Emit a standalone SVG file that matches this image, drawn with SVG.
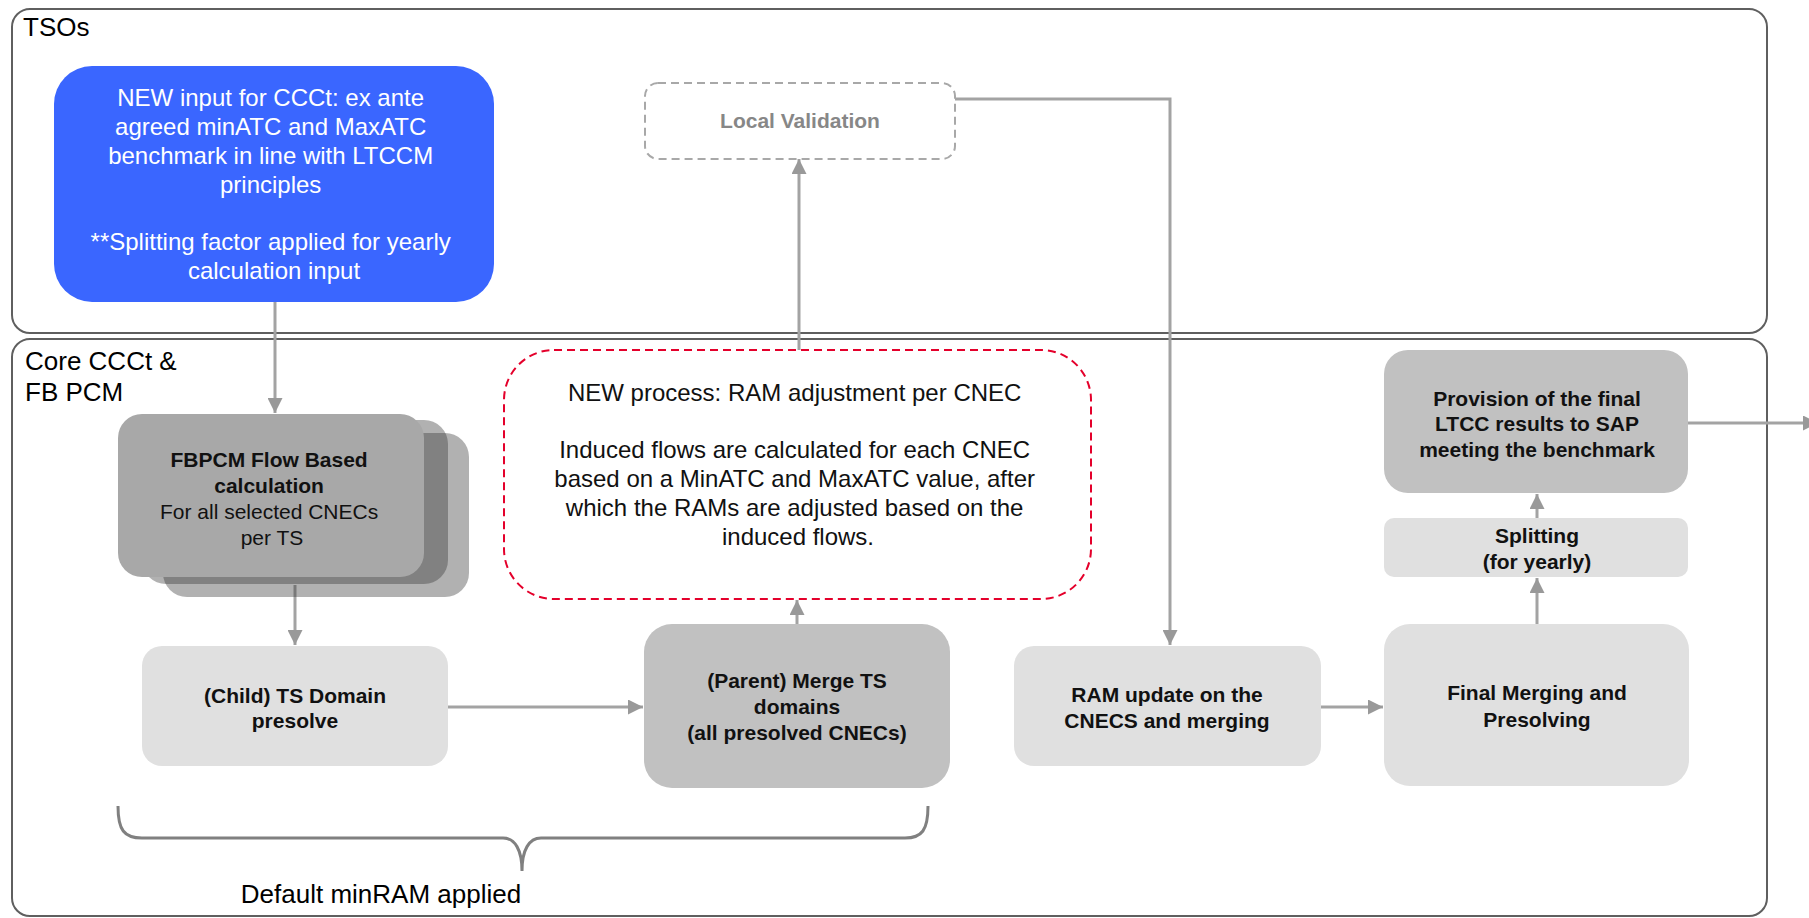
<svg xmlns="http://www.w3.org/2000/svg" width="1809" height="918" viewBox="0 0 1809 918">
<defs>
<style>
.lane{fill:none;stroke:#5f5f5f;stroke-width:2}
.lbl{font-family:"Liberation Sans",Arial,sans-serif;font-size:26px;fill:#000}
.t{font-family:"Liberation Sans",Arial,sans-serif;font-size:21px;fill:#111;text-anchor:middle}
.b{font-weight:bold}
.big{font-size:24px}
.light{fill:#e0e0e0}
.mid{fill:#c1c1c1}
.conn{fill:none;stroke:#a3a3a3;stroke-width:3}
</style>
<marker id="ah" viewBox="0 0 10 10" refX="10" refY="5" markerWidth="15" markerHeight="15" markerUnits="userSpaceOnUse" orient="auto">
<path d="M0,0 L10,5 L0,10 z" fill="#999999"/>
</marker>
</defs>
<rect width="1809" height="918" fill="#ffffff"/>

<g id="lane-tsos">
<rect class="lane" x="12" y="9" width="1755" height="324" rx="18"/>
<text class="lbl" x="23" y="36">TSOs</text>
</g>
<g id="lane-core">
<rect class="lane" x="12" y="339" width="1755" height="577" rx="18"/>
<text class="lbl" x="25" y="370">Core CCCt &amp;</text>
<text class="lbl" x="25" y="401">FB PCM</text>
</g>

<g id="connectors">
<path class="conn" d="M275,302 V413" marker-end="url(#ah)"/>
<path class="conn" d="M295,585 V645" marker-end="url(#ah)"/>
<path class="conn" d="M448,707 H643" marker-end="url(#ah)"/>
<path class="conn" d="M797,624 V600" marker-end="url(#ah)"/>
<path class="conn" d="M799,350 V159" marker-end="url(#ah)"/>
<path class="conn" d="M955,99 H1170 V645" marker-end="url(#ah)"/>
<path class="conn" d="M1321,707 H1383" marker-end="url(#ah)"/>
<path class="conn" d="M1537,624 V578" marker-end="url(#ah)"/>
<path class="conn" d="M1537,518 V494" marker-end="url(#ah)"/>
<path class="conn" d="M1688,423 H1818" marker-end="url(#ah)"/>
</g>

<g id="new-input">
<rect x="54" y="66" width="440" height="236" rx="38" fill="#3a66ff"/>
<text class="t big" x="274" fill="#ffffff" style="fill:#ffffff">
<tspan x="274" y="106">NEW input for CCCt: ex ante</tspan>
<tspan x="274" y="135">agreed minATC and MaxATC</tspan>
<tspan x="274" y="164">benchmark in line with LTCCM</tspan>
<tspan x="274" y="193">principles</tspan>
<tspan x="274" y="250">**Splitting factor applied for yearly</tspan>
<tspan x="274" y="279">calculation input</tspan>
</text>
</g>

<g id="local-validation">
<rect x="645" y="83" width="310" height="76" rx="13" fill="#ffffff" stroke="#a8a8a8" stroke-width="2" stroke-dasharray="8,5"/>
<text class="t b" x="800" y="128" style="fill:#878787">Local Validation</text>
</g>

<g id="ram-adjustment">
<rect x="504" y="350" width="587" height="249" rx="50" fill="none" stroke="#e4002b" stroke-width="2" stroke-dasharray="8,5"/>
<text class="t big">
<tspan x="798" y="401">NEW process: RAM adjustment per CNEC</tspan>
<tspan x="798" y="458">Induced flows are calculated for each CNEC</tspan>
<tspan x="798" y="487">based on a MinATC and MaxATC value, after</tspan>
<tspan x="798" y="516">which the RAMs are adjusted based on the</tspan>
<tspan x="798" y="545">induced flows.</tspan>
</text>
</g>

<g id="fbpcm">
<rect x="163" y="433" width="306" height="164" rx="24" fill="#353535" fill-opacity="0.39"/>
<rect x="142" y="420" width="306" height="164" rx="24" fill="#353535" fill-opacity="0.39"/>
<rect x="118" y="414" width="306" height="163" rx="24" fill="#a8a8a8"/>
<text class="t">
<tspan class="b" x="272" y="467">FBPCM Flow Based</tspan>
<tspan class="b" x="272" y="493">calculation</tspan>
<tspan x="272" y="519">For all selected CNECs</tspan>
<tspan x="272" y="545">per TS</tspan>
</text>
</g>

<g id="child">
<rect class="light" x="142" y="646" width="306" height="120" rx="20"/>
<text class="t b"><tspan x="295" y="703">(Child) TS Domain</tspan><tspan x="295" y="728">presolve</tspan></text>
</g>

<g id="parent">
<rect class="mid" x="644" y="624" width="306" height="164" rx="28"/>
<text class="t b"><tspan x="797" y="688">(Parent) Merge TS</tspan><tspan x="797" y="714">domains</tspan><tspan x="797" y="740">(all presolved CNECs)</tspan></text>
</g>

<g id="ram-update">
<rect class="light" x="1014" y="646" width="307" height="120" rx="20"/>
<text class="t b"><tspan x="1167" y="702">RAM update on the</tspan><tspan x="1167" y="728">CNECS and merging</tspan></text>
</g>

<g id="final-merging">
<rect class="light" x="1384" y="624" width="305" height="162" rx="26"/>
<text class="t b"><tspan x="1537" y="700">Final Merging and</tspan><tspan x="1537" y="727">Presolving</tspan></text>
</g>

<g id="splitting">
<rect class="light" x="1384" y="518" width="304" height="59" rx="10"/>
<text class="t b"><tspan x="1537" y="543">Splitting</tspan><tspan x="1537" y="569">(for yearly)</tspan></text>
</g>

<g id="provision">
<rect class="mid" x="1384" y="350" width="304" height="143" rx="24"/>
<text class="t b"><tspan x="1537" y="406">Provision of the final</tspan><tspan x="1537" y="431">LTCC results to SAP</tspan><tspan x="1537" y="457">meeting the benchmark</tspan></text>
</g>

<g id="brace-default-minram">
<path d="M118,806 C118,830 124,838 142,838 L503,838 C515,838 522,850 522,871 C522,850 529,838 541,838 L905,838 C922,838 928,830 928,806" fill="none" stroke="#808080" stroke-width="3"/>
<text class="lbl" x="381" y="903" text-anchor="middle">Default minRAM applied</text>
</g>
</svg>
